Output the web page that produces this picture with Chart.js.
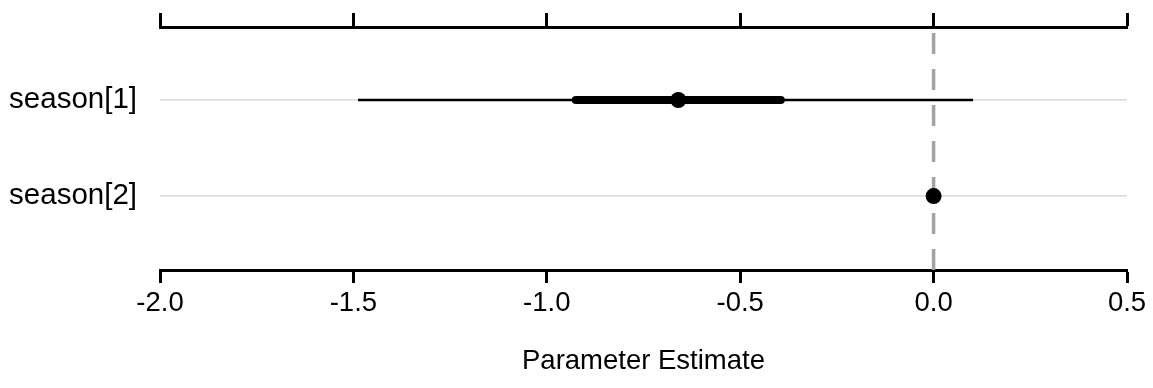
<!DOCTYPE html>
<html>
<head>
<meta charset="utf-8">
<title>Parameter Estimate</title>
<script src="https://cdn.jsdelivr.net/npm/chart.js@4/dist/chart.umd.min.js"></script>
<style>
  html, body { margin: 0; padding: 0; background: #ffffff; }
  canvas { display: block; }
</style>
</head>
<body>
<canvas id="chart" width="1153" height="388"></canvas>
<script>
// Posterior summaries per parameter
const parameters = ['season[1]', 'season[2]'];
const estimates  = [-0.66, 0.0];
const innerLow   = [-0.925, 0.0];
const innerHigh  = [-0.395, 0.0];
const outerLow   = [-1.488, 0.0];
const outerHigh  = [0.102, 0.0];

const xTicks = [-2.0, -1.5, -1.0, -0.5, 0.0, 0.5];
const xMin = -2.0, xMax = 0.5;
const referenceValue = 0.0;

const FONT = "'Liberation Sans', Arial, sans-serif";
const rowOf = i => i + 1;
const yMin = 0.24, yMax = 2.77;

const datasets = [];

// Reference line at zero
datasets.push({
  data: [{ x: referenceValue, y: yMin }, { x: referenceValue, y: yMax }],
  showLine: true, pointRadius: 0,
  borderColor: '#a3a3a3', borderWidth: 3.5,
  borderDash: [21, 15], borderDashOffset: 30,
  order: 4
});

parameters.forEach((p, i) => {
  // outer interval
  datasets.push({
    data: [{ x: outerLow[i], y: rowOf(i) }, { x: outerHigh[i], y: rowOf(i) }],
    showLine: true, pointRadius: 0,
    borderColor: '#000000', borderWidth: 2.5, borderCapStyle: 'butt',
    order: 3
  });
  // inner interval
  datasets.push({
    data: [{ x: innerLow[i], y: rowOf(i) }, { x: innerHigh[i], y: rowOf(i) }],
    showLine: true, pointRadius: 0,
    borderColor: '#000000', borderWidth: 8, borderCapStyle: 'round',
    order: 2
  });
});

// Point estimates
datasets.push({
  data: estimates.map((v, i) => ({ x: v, y: rowOf(i) })),
  pointRadius: 8, pointBackgroundColor: '#000000', pointBorderWidth: 0,
  order: 1
});

new Chart(document.getElementById('chart'), {
  type: 'scatter',
  data: { datasets },
  options: {
    responsive: false,
    animation: false,
    layout: { padding: { left: 0, right: 26, top: 0, bottom: 0 } },
    plugins: { legend: { display: false }, tooltip: { enabled: false } },
    scales: {
      x: {
        type: 'linear', position: 'bottom', min: xMin, max: xMax,
        afterBuildTicks: s => { s.ticks = xTicks.map(v => ({ value: v })); },
        afterFit: s => { s.height = 118; },
        ticks: {
          color: '#000000', font: { family: FONT, size: 27.5 }, padding: 4,
          callback: v => v.toFixed(1)
        },
        grid: { drawOnChartArea: false, drawTicks: true, tickLength: 13, tickWidth: 3, tickColor: '#000000' },
        border: { display: true, width: 3, color: '#000000' },
        title: {
          display: true, text: 'Parameter Estimate', color: '#000000',
          font: { family: FONT, size: 27.5 }, padding: { top: 0, bottom: 10 }
        }
      },
      x2: {
        type: 'linear', position: 'top', min: xMin, max: xMax,
        afterBuildTicks: s => { s.ticks = xTicks.map(v => ({ value: v })); },
        afterFit: s => { s.height = 27; },
        ticks: { display: false },
        grid: { drawOnChartArea: false, drawTicks: true, tickLength: 14, tickWidth: 3, tickColor: '#000000' },
        border: { display: true, width: 3, color: '#000000' }
      },
      y: {
        type: 'linear', reverse: true, min: yMin, max: yMax,
        afterBuildTicks: s => { s.ticks = parameters.map((p, i) => ({ value: rowOf(i) })); },
        afterFit: s => { s.width = 160; s.paddingTop = 0; s.paddingBottom = 0; },
        ticks: {
          color: '#000000', font: { family: FONT, size: 29.5 }, padding: 23,
          callback: v => parameters[Math.round(v) - 1]
        },
        grid: { drawTicks: false, color: '#d9d9d9', lineWidth: 1.5 },
        border: { display: false }
      }
    }
  }
});
</script>
</body>
</html>
